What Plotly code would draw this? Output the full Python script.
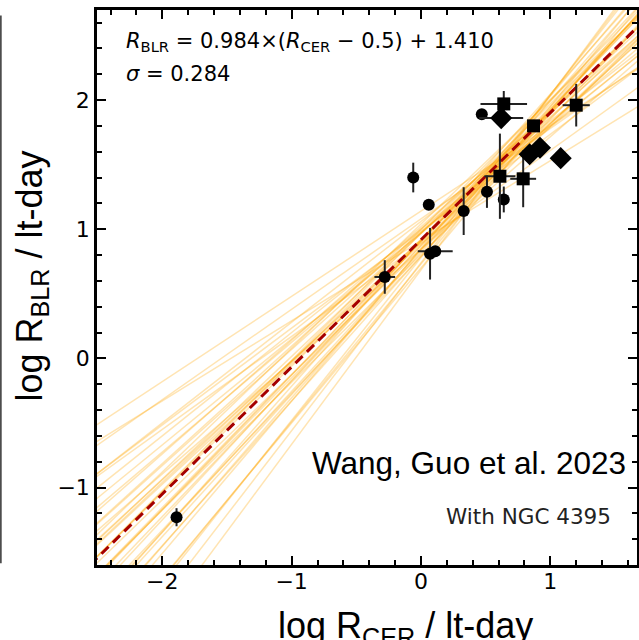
import numpy as np
import plotly.graph_objects as go

# ---- data ----
circ_x = [-1.89, -0.28, -0.06, 0.06, 0.07, 0.11, 0.33, 0.51, 0.64, 0.47]
circ_y = [-1.23, 0.63, 1.40, 1.19, 0.81, 0.83, 1.14, 1.29, 1.23, 1.89]
circ_xerr = [0, 0.08, 0.03, 0, 0, 0.135, 0, 0, 0, 0]
circ_yerr = [0.07, 0.13, 0.115, 0, 0.2, 0, 0.185, 0.125, 0.10, 0]

sq_x = [0.64, 0.87, 1.20, 0.61, 0.79]
sq_y = [1.97, 1.80, 1.96, 1.41, 1.39]
sq_xerr = [0.18, 0, 0.105, 0.12, 0.10]
sq_yerr = [0.10, 0.04, 0.165, 0.33, 0.22]

dia_x = [0.62, 0.84, 0.92, 1.08]
dia_y = [1.86, 1.58, 1.63, 1.55]
dia_xerr = [0.17, 0, 0, 0]
dia_yerr = [0, 0, 0, 0]

fit_slope = 0.984
fit_pivot = 0.5
fit_intercept = 1.410
fit_sigma = 0.284

# posterior sample lines (slope, value at pivot), read approximately from the bundle
sample_slopes = [0.98, 1.02, 0.95, 1.05, 0.92, 1.08, 0.90, 1.10, 0.97, 1.00,
                 0.94, 1.04, 0.88, 1.12, 0.85, 1.15, 0.82, 1.18, 0.78, 1.22,
                 0.75, 1.26, 0.70, 1.30, 0.66, 0.99, 1.01, 0.93, 1.06, 0.87,
                 1.13, 0.80, 1.20, 0.72, 0.96, 1.03, 0.91, 1.09, 0.62, 1.35]
sample_intercepts = [1.41, 1.38, 1.44, 1.40, 1.36, 1.45, 1.42, 1.37, 1.33, 1.47,
                     1.39, 1.43, 1.46, 1.35, 1.40, 1.42, 1.38, 1.44, 1.45, 1.34,
                     1.36, 1.41, 1.43, 1.39, 1.47, 1.30, 1.50, 1.35, 1.32, 1.28,
                     1.48, 1.40, 1.30, 1.25, 1.52, 1.42, 1.46, 1.38, 1.22, 1.36]

x_ticks = [-2, -1, 0, 1]
y_ticks = [-1, 0, 1, 2]
x_range = [-2.505, 1.67]
y_range = [-1.60, 2.697]

fig = go.Figure()

xl = np.array([-3.0, 2.5])
for s, b in zip(sample_slopes, sample_intercepts):
    fig.add_trace(go.Scatter(x=xl, y=s * (xl - fit_pivot) + b, mode="lines",
                             line=dict(color="rgba(255,165,0,0.3)", width=1.5),
                             hoverinfo="skip", showlegend=False))

fig.add_trace(go.Scatter(x=xl, y=fit_slope * (xl - fit_pivot) + fit_intercept,
                         mode="lines", line=dict(color="#a50000", width=3, dash="10px,6px"),
                         showlegend=False))

def pts(x, y, xe, ye, symbol, size):
    return go.Scatter(
        x=x, y=y, mode="markers",
        marker=dict(symbol=symbol, size=size, color="black"),
        error_x=dict(type="data", array=xe, visible=True, color="#222", thickness=2, width=0),
        error_y=dict(type="data", array=ye, visible=True, color="#222", thickness=2, width=0),
        showlegend=False)

fig.add_trace(pts(circ_x, circ_y, circ_xerr, circ_yerr, "circle", 12))
fig.add_trace(pts(sq_x, sq_y, sq_xerr, sq_yerr, "square", 13))
fig.add_trace(pts(dia_x, dia_y, dia_xerr, dia_yerr, "diamond", 17))

axis_common = dict(
    showgrid=False, zeroline=False, showline=True, linecolor="black", linewidth=2.5,
    mirror="allticks", ticks="inside", ticklen=9, tickwidth=2, tickcolor="black",
    tickfont=dict(family="DejaVu Sans", size=22, color="black"),
    minor=dict(ticks="inside", ticklen=5, tickwidth=1.5, tickcolor="black", dtick=0.2),
    automargin=False,
)

fig.update_xaxes(range=x_range, tickvals=x_ticks, ticklabelstandoff=-5, **axis_common)
fig.update_yaxes(range=y_range, tickvals=y_ticks, **axis_common)

title_font = dict(family="Liberation Sans", size=36, color="black")
fig.add_annotation(xref="paper", yref="paper", x=0.572, y=-0.1135, xanchor="center", yanchor="middle",
                   showarrow=False, font=title_font, text="log R<sub>CER</sub> / lt-day")
fig.add_annotation(xref="paper", yref="paper", x=-0.120, y=0.52, xanchor="center", yanchor="middle",
                   textangle=-90, showarrow=False, font=title_font, text="log R<sub>BLR</sub> / lt-day")

fig.add_annotation(xref="paper", yref="paper", x=0.05, y=0.942, xanchor="left", yanchor="middle",
                   showarrow=False, font=dict(family="DejaVu Sans", size=21, color="black"),
                   text=f"<i>R</i><sub>BLR</sub> = {fit_slope:.3f}×(<i>R</i><sub>CER</sub> − {fit_pivot}) + {fit_intercept:.3f}")
fig.add_annotation(xref="paper", yref="paper", x=0.05, y=0.885, xanchor="left", yanchor="middle",
                   showarrow=False, font=dict(family="DejaVu Sans", size=21, color="black"),
                   text=f"<i>σ</i> = {fit_sigma:.3f}")
fig.add_annotation(xref="paper", yref="paper", x=0.983, y=0.184, xanchor="right", yanchor="middle",
                   showarrow=False, font=dict(family="Liberation Sans", size=31.5, color="black"),
                   text="Wang, Guo et al. 2023")
fig.add_annotation(xref="paper", yref="paper", x=0.955, y=0.0865, xanchor="right", yanchor="middle",
                   showarrow=False, font=dict(family="DejaVu Sans", size=21.5, color="#222"),
                   text="With NGC 4395")

# thin vertical line at the far left edge of the picture
fig.add_shape(type="line", xref="paper", yref="paper", x0=-0.178, x1=-0.178, y0=0.003, y1=0.99,
              line=dict(color="#333", width=1.5))

fig.update_layout(width=639, height=640, margin=dict(l=97, r=2, t=10, b=75),
                  plot_bgcolor="white", paper_bgcolor="white")

fig.write_html("out.html", config={"displayModeBar": False},
               post_script="document.body.style.margin='0';document.body.style.overflow='hidden';")
